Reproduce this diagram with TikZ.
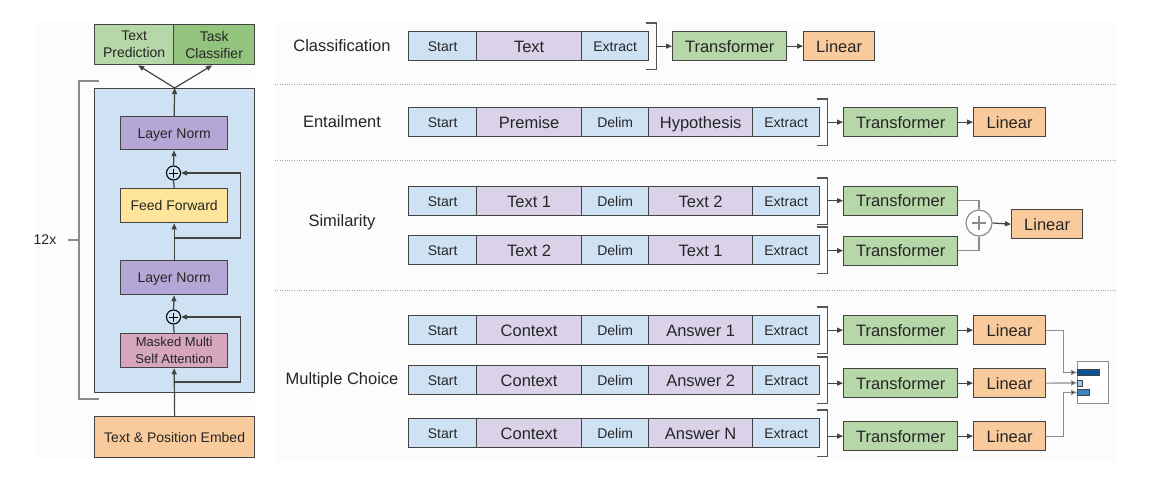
\documentclass[tikz,border=0pt]{standalone}
\usepackage{fontspec}
\setmainfont{Liberation Sans}
\usetikzlibrary{arrows.meta}
\definecolor{cblue}{HTML}{CFE2F3}
\definecolor{cpurp}{HTML}{D9D2E9}
\definecolor{cgreen}{HTML}{B6D7A8}
\definecolor{cgreentwo}{HTML}{93C47D}
\definecolor{corange}{HTML}{F9CB9C}
\definecolor{cln}{HTML}{B4A7D6}
\definecolor{cff}{HTML}{FFE599}
\definecolor{catt}{HTML}{D5A6BD}
\definecolor{edge}{HTML}{434343}
\definecolor{txt}{HTML}{262626}
\definecolor{gline}{HTML}{8C8C8C}
\definecolor{barone}{HTML}{0B5394}
\definecolor{bartwo}{HTML}{9FC5E8}
\definecolor{barthree}{HTML}{3D85C6}
\definecolor{panel}{HTML}{FCFCFC}
\tikzset{
 tbox/.style={draw=edge, line width=1.3pt, inner sep=0pt, text=txt, align=center, anchor=north west},
 bigf/.style={font=\fontsize{16.5}{19}\selectfont},
 smallf/.style={font=\fontsize{14}{17}\selectfont},
 bigone/.style={text height=11.9pt, text depth=0pt},
 smallone/.style={text height=10.1pt, text depth=0pt},
 tokb/.style={tbox, smallf, smallone, fill=cblue, minimum height=29},
 tokp/.style={tbox, bigf, bigone, fill=cpurp, minimum height=29},
 trf/.style={tbox, bigf, bigone, fill=cgreen, minimum width=114, minimum height=29},
 lin/.style={tbox, bigf, bigone, fill=corange, minimum width=72, minimum height=29},
 arr/.style={draw=edge, line width=1.2pt, -{Triangle[length=6pt,width=5pt]}},
 plainln/.style={draw=edge, line width=1.2pt},
 brk/.style={draw=edge!90, line width=1.3pt},
 gl/.style={draw=gline, line width=1.2pt},
 garr/.style={draw=gline, line width=1.2pt, -{Triangle[length=6pt,width=5pt,fill=black]}},
 sepln/.style={draw=black!35, line width=0.8pt, dash pattern=on 0.8pt off 1.6pt},
 lbl/.style={text=txt, bigf},
 oplussmall/.style={circle, draw=black, line width=1.1pt, fill=cblue, minimum size=14, inner sep=0pt,
   path picture={\draw[line width=1pt] ([xshift=-4.5pt]path picture bounding box.center) -- ([xshift=4.5pt]path picture bounding box.center) ([yshift=-4.5pt]path picture bounding box.center) -- ([yshift=4.5pt]path picture bounding box.center);}},
 oplusbig/.style={circle, draw=gline, line width=1.2pt, fill=white, minimum size=26, inner sep=0pt,
   path picture={\draw[line width=1.3pt] ([xshift=-7pt]path picture bounding box.center) -- ([xshift=7pt]path picture bounding box.center) ([yshift=-7pt]path picture bounding box.center) -- ([yshift=7pt]path picture bounding box.center);}},
 barbox/.style={draw=edge, line width=0.8pt, inner sep=0pt, anchor=north west, minimum height=6},
}
\newcommand{\fullrow}[4]{%
 \node[tokb, minimum width=68] (#1s) at (408,#2) {Start};
 \node[tokp, minimum width=105] (#1a) at (476,#2) {#3};
 \node[tokb, minimum width=67] (#1d) at (581,#2) {Delim};
 \node[tokp, minimum width=104] (#1b) at (648,#2) {#4};
 \node[tokb, minimum width=67] (#1e) at (752,#2) {Extract};
 \draw[brk] ([xshift=-3pt,yshift=8pt]#1e.north east) -- ([xshift=7pt,yshift=8pt]#1e.north east) -- ([xshift=7pt,yshift=-8pt]#1e.south east) -- ([xshift=-3pt,yshift=-8pt]#1e.south east);
 \coordinate (#1k) at ([xshift=7pt]#1e.east);
}
\begin{document}
\begin{tikzpicture}[x=1pt,y=-1pt]
\useasboundingbox (0,0) rectangle (1150,482);
% faint panels
\fill[panel] (35,22) rectangle (256,458);
\fill[panel] (275,22) rectangle (1117,462);

% ---------- left panel ----------
\node[tbox, smallf, fill=cgreen, minimum width=79, minimum height=40] (tp) at (94,24) {Text\\Prediction};
\node[tbox, smallf, fill=cgreentwo, minimum width=81, minimum height=40] (tc) at (173,24) {Task\\Classifier};
\node[tbox, fill=cblue, minimum width=160, minimum height=304] (blk) at (94,88) {};
\node[tbox, smallf, smallone, fill=cln, minimum width=107, minimum height=33] (ln1) at (120,116) {Layer Norm};
\node[oplussmall] (p1) at (173.5,173) {};
\node[tbox, smallf, smallone, fill=cff, minimum width=107, minimum height=34] (ff) at (120,188) {Feed Forward};
\node[tbox, smallf, smallone, fill=cln, minimum width=107, minimum height=34] (ln2) at (120,260) {Layer Norm};
\node[oplussmall] (p2) at (173.5,317) {};
\node[tbox, font=\fontsize{13}{17}\selectfont, fill=catt, minimum width=107, minimum height=34] (att) at (120,333) {Masked Multi\\Self Attention};
\node[tbox, smallf, smallone, fill=corange, minimum width=160, minimum height=41] (emb) at (94,416) {Text \& Position Embed};

\draw[arr] (emb.north) -- (att.south);
\coordinate (r2) at (173.5,382);
\draw[arr] (r2) -- ++(67,0) |- (p2.east);
\draw[plainln] (att.north) -- (p2.south);
\draw[arr] (p2.north) -- (ln2.south);
\draw[arr] (ln2.north) -- (ff.south);
\coordinate (r1) at (173.5,238);
\draw[arr] (r1) -- ++(67,0) |- (p1.east);
\draw[plainln] (ff.north) -- (p1.south);
\draw[arr] (p1.north) -- (ln1.south);
\draw[arr] (ln1.north) -- (blk.north);
\draw[arr] (blk.north) -- ([xshift=4pt]tp.south);
\draw[arr] (blk.north) -- ([xshift=-2pt]tc.south);

\draw[gl, line width=1.4pt] (99,81) -- (79,81) -- (79,399) -- (99,399);
\node[text=txt, smallf] (n12) at (45,240) {12x};
\coordinate (tick) at (68,240);
\draw[gl] (tick) -- (79,240);

% ---------- separators ----------
\draw[sepln] (275,84) -- (1117,84);
\draw[sepln] (275,160) -- (1117,160);
\draw[sepln] (275,290) -- (1117,290);

% ---------- classification ----------
\node[lbl] (lc) at (342,45.5) {Classification};
\node[tokb, minimum width=68] (cs) at (408,31) {Start};
\node[tokp, minimum width=105] (ca) at (476,31) {Text};
\node[tokb, minimum width=67] (ce) at (581,31) {Extract};
\draw[brk] ([xshift=-3pt,yshift=8pt]ce.north east) -- ([xshift=7pt,yshift=8pt]ce.north east) -- ([xshift=7pt,yshift=-8pt]ce.south east) -- ([xshift=-3pt,yshift=-8pt]ce.south east);
\coordinate (ck) at ([xshift=7pt]ce.east);
\node[trf] (ct) at (672,31) {Transformer};
\node[lin, minimum width=71] (cl) at (803,31) {Linear};
\draw[arr] (ck |- ct.west) -- (ct.west);
\draw[arr] (ct.east) -- (cl.west);

% ---------- entailment ----------
\node[lbl] (le) at (342,121.5) {Entailment};
\fullrow{e}{107}{Premise}{Hypothesis}
\node[trf] (et) at (843,107) {Transformer};
\node[lin] (el) at (973,107) {Linear};
\draw[arr] (ek |- et.west) -- (et.west);
\draw[arr] (et.east) -- (el.west);

% ---------- similarity ----------
\node[lbl] (ls) at (342,222) {Similarity};
\fullrow{sa}{186}{Text 1}{Text 2}
\fullrow{sb}{235}{Text 2}{Text 1}
\node[trf] (s1t) at (843,185.5) {Transformer};
\node[trf] (s2t) at (843,235.5) {Transformer};
\node[oplusbig] (pl) at (979,223) {};
\node[lin, minimum width=71] (sl) at (1011,209) {Linear};
\draw[arr] (sak |- s1t.west) -- (s1t.west);
\draw[arr] (sbk |- s2t.west) -- (s2t.west);
\draw[gl] (s1t.east) -| (pl.north);
\draw[gl] (s2t.east) -| (pl.south);
\draw[arr] (pl.east) -- (sl.west);

% ---------- multiple choice ----------
\node[lbl] (lm) at (342,380) {Multiple Choice};
\fullrow{ma}{315}{Context}{Answer 1}
\fullrow{mb}{365}{Context}{Answer 2}
\fullrow{mc}{418}{Context}{Answer N}
\node[trf] (m1t) at (843,315) {Transformer};
\node[lin] (m1l) at (973,315) {Linear};
\node[trf] (m2t) at (843,368) {Transformer};
\node[lin] (m2l) at (973,368) {Linear};
\node[trf] (m3t) at (843,421) {Transformer};
\node[lin] (m3l) at (973,421) {Linear};
\draw[arr] (mak |- m1t.west) -- (m1t.west);
\draw[arr] (mbk |- m2t.west) -- (m2t.west);
\draw[arr] (mck |- m3t.west) -- (m3t.west);
\draw[arr] (m1t.east) -- (m1l.west);
\draw[arr] (m2t.east) -- (m2l.west);
\draw[arr] (m3t.east) -- (m3l.west);

\node[draw=gline, line width=1.3pt, fill=white, inner sep=0pt, anchor=north west, minimum width=31, minimum height=42] (res) at (1077,361) {};
\node[barbox, fill=barone, minimum width=22] (bar1) at (1077,369) {};
\node[barbox, fill=bartwo, minimum width=5] (bar2) at (1077,379.5) {};
\node[barbox, fill=barthree, minimum width=12] (bar3) at (1077,389) {};
\draw[garr] (m1l.east) -- ++(17,0) |- (bar1.west);
\draw[garr] (m2l.east) -- (bar2.west);
\draw[garr] (m3l.east) -- ++(17,0) |- (bar3.west);
\end{tikzpicture}
\end{document}
